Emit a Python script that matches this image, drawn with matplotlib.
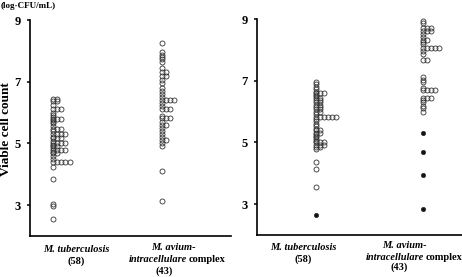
import matplotlib
matplotlib.use("Agg")
import matplotlib.pyplot as plt
import numpy as np

plt.rcParams['font.family'] = ['Liberation Serif', 'DejaVu Serif']

W, H = 462, 277

# viable cell counts (log CFU/mL)
tb_left = [6.45, 6.45, 6.38, 6.38, 6.25, 6.1, 6.1, 6.1, 6.0, 5.92,
           5.85, 5.8, 5.8, 5.8, 5.75, 5.7, 5.65, 5.55, 5.48, 5.48, 5.48,
           5.4, 5.32, 5.32, 5.32, 5.32, 5.22, 5.16, 5.16, 5.16, 5.08,
           5.0, 5.0, 5.0, 5.0, 4.95, 4.92, 4.92, 4.85, 4.8, 4.8, 4.8, 4.8,
           4.72, 4.68, 4.68, 4.58, 4.5, 4.4, 4.4, 4.4, 4.4, 4.4,
           4.25, 3.85, 3.05, 2.98, 2.55]
mac_left = [8.25, 7.95, 7.88, 7.8, 7.72, 7.65, 7.45, 7.3, 7.3, 7.18, 7.18,
            7.05, 6.95, 6.8, 6.7, 6.6, 6.5, 6.42, 6.42, 6.42, 6.42, 6.3,
            6.2, 6.1, 6.1, 6.1, 5.9, 5.82, 5.82, 5.82, 5.7, 5.6, 5.6,
            5.5, 5.4, 5.3, 5.2, 5.1, 5.1, 5.0, 4.92, 4.12, 3.15]

tb_right_open = [6.95, 6.88, 6.8, 6.72, 6.65, 6.6, 6.6, 6.6, 6.55, 6.52,
                 6.45, 6.45, 6.38, 6.38, 6.3, 6.3, 6.22, 6.22, 6.15, 6.15,
                 6.07, 6.07, 6.0, 6.0, 5.92, 5.82, 5.82, 5.82, 5.82, 5.82,
                 5.82, 5.75, 5.68, 5.6, 5.52, 5.45, 5.4, 5.4, 5.32, 5.32,
                 5.28, 5.22, 5.18, 5.1, 5.05, 5.0, 5.0, 5.0, 4.92, 4.92,
                 4.92, 4.85, 4.85, 4.8, 4.35, 4.15, 3.55]
tb_right_filled = [2.65]
mac_right_open = [8.95, 8.87, 8.72, 8.72, 8.72, 8.6, 8.6, 8.6, 8.5, 8.42,
                  8.33, 8.33, 8.25, 8.18, 8.05, 8.05, 8.05, 8.05, 8.05,
                  7.95, 7.88, 7.68, 7.68, 7.12, 7.02, 6.95, 6.78,
                  6.7, 6.7, 6.7, 6.7, 6.45, 6.45, 6.45, 6.38, 6.3,
                  6.18, 6.1, 6.0]
mac_right_filled = [5.3, 4.68, 3.95, 2.85]

yticks = [3, 5, 7, 9]
dx = 0.038


def stack_x(vals, pos):
    # equal values are laid side by side to the right
    seen = {}
    xs = []
    for v in vals:
        k = seen.get(v, 0)
        xs.append(pos + k * dx)
        seen[v] = k + 1
    return xs


def dots(ax, vals, pos, filled=False):
    ax.plot(stack_x(vals, pos), vals, 'o', ms=3.0 if filled else 3.6,
            mew=0.6, mec='#333333', mfc='#111111' if filled else 'none',
            linestyle='none', clip_on=False)


def setup(ax, xlim):
    ax.set_xlim(*xlim)
    ax.set_ylim(2, 9)
    ax.set_yticks(yticks)
    ax.set_yticklabels([str(t) for t in yticks], fontweight='bold',
                       fontsize=9)
    ax.set_xticks([])
    for s in ['top', 'right']:
        ax.spines[s].set_visible(False)
    for s in ['left', 'bottom']:
        ax.spines[s].set_linewidth(1.2)
    ax.tick_params(axis='y', direction='out', length=2.5, width=1.1, pad=4)


fig = plt.figure(figsize=(W / 100, H / 100), dpi=100)
ax1 = fig.add_axes([30 / W, 1 - 236 / H, 201 / W, 216 / H])
ax2 = fig.add_axes([257 / W, 1 - 235 / H, 205 / W, 216 / H])

setup(ax1, (0.789, 2.633))
setup(ax2, (0.449, 2.364))

dots(ax1, tb_left, 1)
dots(ax1, mac_left, 2)
dots(ax2, tb_right_open, 1)
dots(ax2, tb_right_filled, 1, filled=True)
dots(ax2, mac_right_open, 2)
dots(ax2, mac_right_filled, 2, filled=True)


def ftxt(x, y, s, **kw):
    kw.setdefault('ha', 'center')
    kw.setdefault('va', 'center')
    kw.setdefault('fontsize', 7.5)
    kw.setdefault('fontweight', 'bold')
    fig.text(x / W, 1 - y / H, s, **kw)


ftxt(1, 6, "(log·CFU/mL)", ha='left', fontsize=6.5)
ftxt(6, 129, "Viable cell count", rotation=90, fontsize=9.5)

# group labels, left panel
ftxt(76, 249, "M. tuberculosis", style='italic')
ftxt(76, 261, "(58)")
ftxt(173, 247, "M. avium-", style='italic')
ftxt(187, 259, "intracellulare", style='italic', ha='right')
ftxt(189, 259, "complex", ha='left')
ftxt(164, 271, "(43)")

# group labels, right panel
ftxt(303, 248, "M. tuberculosis", style='italic')
ftxt(303, 259, "(58)")
ftxt(404, 246, "M. avium-", style='italic')
ftxt(424, 258, "intracellulare", style='italic', ha='right')
ftxt(426, 258, "complex", ha='left')
ftxt(399, 267, "(43)")

fig.savefig("out.png", dpi=100)
